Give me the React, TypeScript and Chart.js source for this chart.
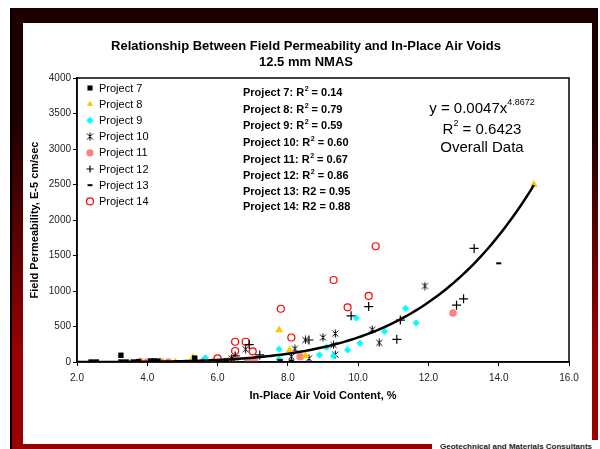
import React, { useEffect, useRef } from "react";
import { Chart, registerables } from "chart.js";
import { drawPoint } from "chart.js/helpers";

Chart.register(...registerables);

// ---------- Data ----------
const X_TICK_MIN = 2;
const X_TICK_MAX = 16;
const X_TICK_STEP = 2;
const Y_TICK_MIN = 0;
const Y_TICK_MAX = 4000;
const Y_TICK_STEP = 500;

const p7x = [2.4, 2.55, 3.25, 3.25, 3.4, 3.6, 3.75, 4.1, 4.2, 4.3, 5.35, 6.05, 6.25, 7.78];
const p7y = [0, 0, 95, 0, 0, 0, 5, 15, 15, 10, 55, 5, 10, 5];

const p8x = [3.85, 4.45, 4.8, 5.3, 5.85, 6.3, 7.75, 8.05, 8.5, 15.0];
const p8y = [0, 0, 0, 65, 0, 15, 450, 170, 90, 2500];

const p9x = [5.65, 7.75, 7.75, 8.9, 9.1, 9.3, 9.7, 9.95, 10.05, 10.75, 11.35, 11.65];
const p9y = [60, 180, 40, 100, 205, 85, 170, 620, 265, 430, 755, 550];

const p10x = [6.4, 6.8, 8.1, 8.2, 8.5, 8.6, 9.0, 9.3, 9.35, 9.35, 10.4, 10.6, 11.9];
const p10y = [50, 180, 75, 185, 310, 50, 345, 240, 400, 105, 455, 270, 1070];

const p11x = [3.8, 4.0, 4.35, 4.6, 5.3, 5.6, 6.3, 6.5, 6.85, 7.05, 8.35, 12.7];
const p11y = [5, 0, 5, 0, 5, 5, 10, 20, 15, 30, 75, 690];

const p12x = [6.5, 6.9, 7.2, 8.6, 9.8, 10.3, 11.1, 11.2, 12.8, 13.0, 13.3];
const p12y = [85, 245, 100, 310, 650, 780, 320, 590, 800, 890, 1600];

const p13x = [8.1, 14.0];
const p13y = [20, 1390];

const p14x = [6.0, 6.5, 6.5, 6.8, 7.0, 7.8, 8.1, 9.3, 9.7, 10.3, 10.5];
const p14y = [50, 285, 155, 285, 150, 750, 345, 1155, 770, 930, 1630];

// Overall power trendline shown on the chart: y = 0.0047 x^4.8672
const TREND_COEF = 0.0047;
const TREND_EXP = 4.8672;
const TREND_X_START = 2.0;
const TREND_X_END = 15.0;

const projectLabels = [
  "Project 7", "Project 8", "Project 9", "Project 10",
  "Project 11", "Project 12", "Project 13", "Project 14",
];

const r2Labels = [
  { head: "Project 7: R", sup: "2", tail: " = 0.14" },
  { head: "Project 8: R", sup: "2", tail: " = 0.79" },
  { head: "Project 9: R", sup: "2", tail: " = 0.59" },
  { head: "Project 10: R", sup: "2", tail: " = 0.60" },
  { head: "Project 11: R", sup: "2", tail: " = 0.67" },
  { head: "Project 12: R", sup: "2", tail: " = 0.86" },
  { head: "Project 13: R2 = 0.95", sup: "", tail: "" },
  { head: "Project 14: R2 = 0.88", sup: "", tail: "" },
];

const TITLE_1 = "Relationship Between Field Permeability and In-Place Air Voids";
const TITLE_2 = "12.5 mm NMAS";
const X_TITLE = "In-Place Air Void Content, %";
const Y_TITLE = "Field Permeability, E-5 cm/sec";
const EQ_MAIN = "y = 0.0047x";
const EQ_EXP = "4.8672";
const EQ_R2_VALUE = " = 0.6423";
const EQ_LABEL = "Overall Data";

const FONT = '"Liberation Sans", Arial, sans-serif';

function zip(xs: number[], ys: number[]) {
  return xs.map((x, i) => ({ x, y: ys[i] }));
}

function makeAsterisk(): HTMLCanvasElement {
  const c = document.createElement("canvas");
  c.width = 9;
  c.height = 9;
  const g = c.getContext("2d")!;
  g.strokeStyle = "#000";
  g.lineWidth = 1;
  g.beginPath();
  g.moveTo(1.5, 1.5); g.lineTo(7.5, 7.5);
  g.moveTo(7.5, 1.5); g.lineTo(1.5, 7.5);
  g.moveTo(4.5, 0.5); g.lineTo(4.5, 8.5);
  g.stroke();
  return c;
}

const textPlugin = {
  id: "textPlugin",
  afterDraw(chart: any) {
    const { ctx, chartArea: a } = chart;
    ctx.save();
    // plot frame
    ctx.strokeStyle = "#000";
    ctx.lineWidth = 1.5;
    ctx.strokeRect(a.left, a.top, a.right - a.left, a.bottom - a.top);

    ctx.fillStyle = "#000";
    ctx.textBaseline = "middle";
    // titles
    ctx.textAlign = "center";
    ctx.font = `bold 13px ${FONT}`;
    ctx.fillText(TITLE_1, 283, 23);
    ctx.fillText(TITLE_2, 283, 39);

    ctx.font = `bold 11px ${FONT}`;
    ctx.fillText(X_TITLE, (a.left + a.right) / 2, 373);
    ctx.save();
    ctx.translate(12, (a.top + a.bottom) / 2);
    ctx.rotate(-Math.PI / 2);
    ctx.fillText(Y_TITLE, 0, 0);
    ctx.restore();

    // legend
    ctx.textAlign = "left";
    ctx.font = `11px ${FONT}`;
    const metas = chart.data.datasets;
    for (let i = 0; i < projectLabels.length; i++) {
      const ds = metas[i + 1];
      const y = 65 + i * 16.2;
      ctx.save();
      ctx.fillStyle = ds.backgroundColor;
      ctx.strokeStyle = ds.borderColor;
      ctx.lineWidth = ds.borderWidth;
      const r = Math.min(ds.pointRadius, 3.6);
      drawPoint(ctx, { pointStyle: ds.pointStyle, rotation: 0, radius: r, borderWidth: ds.borderWidth }, 67, y);
      ctx.restore();
      ctx.fillStyle = "#000";
      ctx.fillText(ds.label, 76, y + 0.5);
    }

    // R^2 labels
    const r2Y = [70, 87, 103, 120, 137, 153, 169, 184];
    r2Labels.forEach((r, i) => {
      let x = 220;
      const y = r2Y[i];
      ctx.font = `bold 11px ${FONT}`;
      ctx.fillText(r.head, x, y);
      x += ctx.measureText(r.head).width;
      if (r.sup) {
        ctx.font = `bold 7px ${FONT}`;
        ctx.fillText(r.sup, x + 0.5, y - 4);
        x += ctx.measureText(r.sup).width + 0.5;
        ctx.font = `bold 11px ${FONT}`;
        ctx.fillText(r.tail, x, y);
      }
    });

    // equation block
    const cx = 459;
    ctx.font = `15px ${FONT}`;
    const w1 = ctx.measureText(EQ_MAIN).width;
    ctx.font = `9px ${FONT}`;
    const w2 = ctx.measureText(EQ_EXP).width;
    let x0 = cx - (w1 + w2) / 2;
    ctx.font = `15px ${FONT}`;
    ctx.fillText(EQ_MAIN, x0, 86);
    ctx.font = `9px ${FONT}`;
    ctx.fillText(EQ_EXP, x0 + w1, 80);

    ctx.font = `15px ${FONT}`;
    const wR = ctx.measureText("R").width;
    ctx.font = `9px ${FONT}`;
    const w2s = ctx.measureText("2").width;
    ctx.font = `15px ${FONT}`;
    const wV = ctx.measureText(EQ_R2_VALUE).width;
    x0 = cx - (wR + w2s + wV) / 2;
    ctx.fillText("R", x0, 107);
    ctx.font = `9px ${FONT}`;
    ctx.fillText("2", x0 + wR, 101);
    ctx.font = `15px ${FONT}`;
    ctx.fillText(EQ_R2_VALUE, x0 + wR + w2s, 107);

    ctx.textAlign = "center";
    ctx.fillText(EQ_LABEL, cx, 125);
    ctx.restore();
  },
};

export default function App() {
  const ref = useRef<HTMLCanvasElement>(null);

  useEffect(() => {
    const canvas = ref.current!;
    const asterisk = makeAsterisk();

    const trendData: { x: number; y: number }[] = [];
    for (let x = TREND_X_START; x <= TREND_X_END + 1e-9; x += 0.1) {
      trendData.push({ x, y: TREND_COEF * Math.pow(x, TREND_EXP) });
    }

    const chart = new Chart(canvas, {
      type: "scatter",
      data: {
        datasets: [
          {
            label: "Overall trend",
            data: trendData,
            showLine: true,
            borderColor: "#000",
            borderWidth: 2.5,
            pointRadius: 0,
            backgroundColor: "#000",
            tension: 0,
          },
          { label: projectLabels[0], data: zip(p7x, p7y), pointStyle: "rect", pointRadius: 3.8, backgroundColor: "#000", borderColor: "#000", borderWidth: 0 },
          { label: projectLabels[1], data: zip(p8x, p8y), pointStyle: "triangle", pointRadius: 4.5, backgroundColor: "#FFC800", borderColor: "#FFC800", borderWidth: 0 },
          { label: projectLabels[2], data: zip(p9x, p9y), pointStyle: "rectRot", pointRadius: 3.6, backgroundColor: "#00FFFF", borderColor: "#00FFFF", borderWidth: 0 },
          { label: projectLabels[3], data: zip(p10x, p10y), pointStyle: asterisk, pointRadius: 4, backgroundColor: "#000", borderColor: "#000", borderWidth: 1 },
          { label: projectLabels[4], data: zip(p11x, p11y), pointStyle: "circle", pointRadius: 3.8, backgroundColor: "#FF8080", borderColor: "#FF8080", borderWidth: 0 },
          { label: projectLabels[5], data: zip(p12x, p12y), pointStyle: "cross", pointRadius: 4.5, backgroundColor: "#000", borderColor: "#000", borderWidth: 1.2 },
          { label: projectLabels[6], data: zip(p13x, p13y), pointStyle: "line", pointRadius: 2.5, backgroundColor: "#000", borderColor: "#000", borderWidth: 2 },
          { label: projectLabels[7], data: zip(p14x, p14y), pointStyle: "circle", pointRadius: 3.5, backgroundColor: "rgba(255,255,255,0)", borderColor: "#FF0000", borderWidth: 1.2 },
        ],
      },
      options: {
        responsive: false,
        animation: false,
        devicePixelRatio: 1,
        layout: { padding: { left: 0, top: 55, right: 23, bottom: 0 } },
        plugins: {
          legend: { display: false },
          title: { display: false },
          tooltip: { enabled: false },
        },
        scales: {
          x: {
            type: "linear",
            min: X_TICK_MIN,
            max: X_TICK_MAX,
            afterFit: (s: any) => { s.height = 82; },
            ticks: {
              stepSize: X_TICK_STEP,
              color: "#222",
              font: { family: FONT, size: 10 },
              padding: 6,
              callback: (v: any) => Number(v).toFixed(1),
            },
            grid: { display: true, drawOnChartArea: false, drawTicks: true, tickLength: 4, color: "#000", lineWidth: 1 },
            border: { display: true, color: "#000", width: 1.5 },
          },
          y: {
            type: "linear",
            min: Y_TICK_MIN,
            max: Y_TICK_MAX,
            afterFit: (s: any) => { s.width = 54; },
            ticks: {
              stepSize: Y_TICK_STEP,
              color: "#222",
              font: { family: FONT, size: 10 },
              padding: 2,
              callback: (v: any) => String(v),
            },
            grid: { display: true, drawOnChartArea: false, drawTicks: true, tickLength: 4, color: "#000", lineWidth: 1 },
            border: { display: true, color: "#000", width: 1.5 },
          },
        },
      },
      plugins: [textPlugin],
    } as any);

    return () => chart.destroy();
  }, []);

  return (
    <div style={{ position: "absolute", left: 0, top: 0, width: 600, height: 449, background: "#fff", overflow: "hidden" }}>
      <div
        style={{
          position: "absolute", left: 10, top: 8, width: 588, height: 441,
          background: "linear-gradient(#1c0000 0%, #1c0000 25%, #990000 78%, #990000 100%)",
          borderLeft: "2px solid #000", boxSizing: "border-box",
        }}
      />
      <div style={{ position: "absolute", left: 23, top: 23, width: 569, height: 421, background: "#fff" }}>
        <canvas ref={ref} width={569} height={421} style={{ display: "block", width: 569, height: 421 }} />
      </div>
      <div style={{ position: "absolute", left: 432, top: 440, width: 168, height: 9, background: "#fff", overflow: "hidden" }}>
        <div style={{ position: "absolute", left: 8, top: 2, whiteSpace: "nowrap", font: `bold 8px ${FONT}`, color: "#222" }}>
          Geotechnical and Materials Consultants
        </div>
      </div>
    </div>
  );
}
